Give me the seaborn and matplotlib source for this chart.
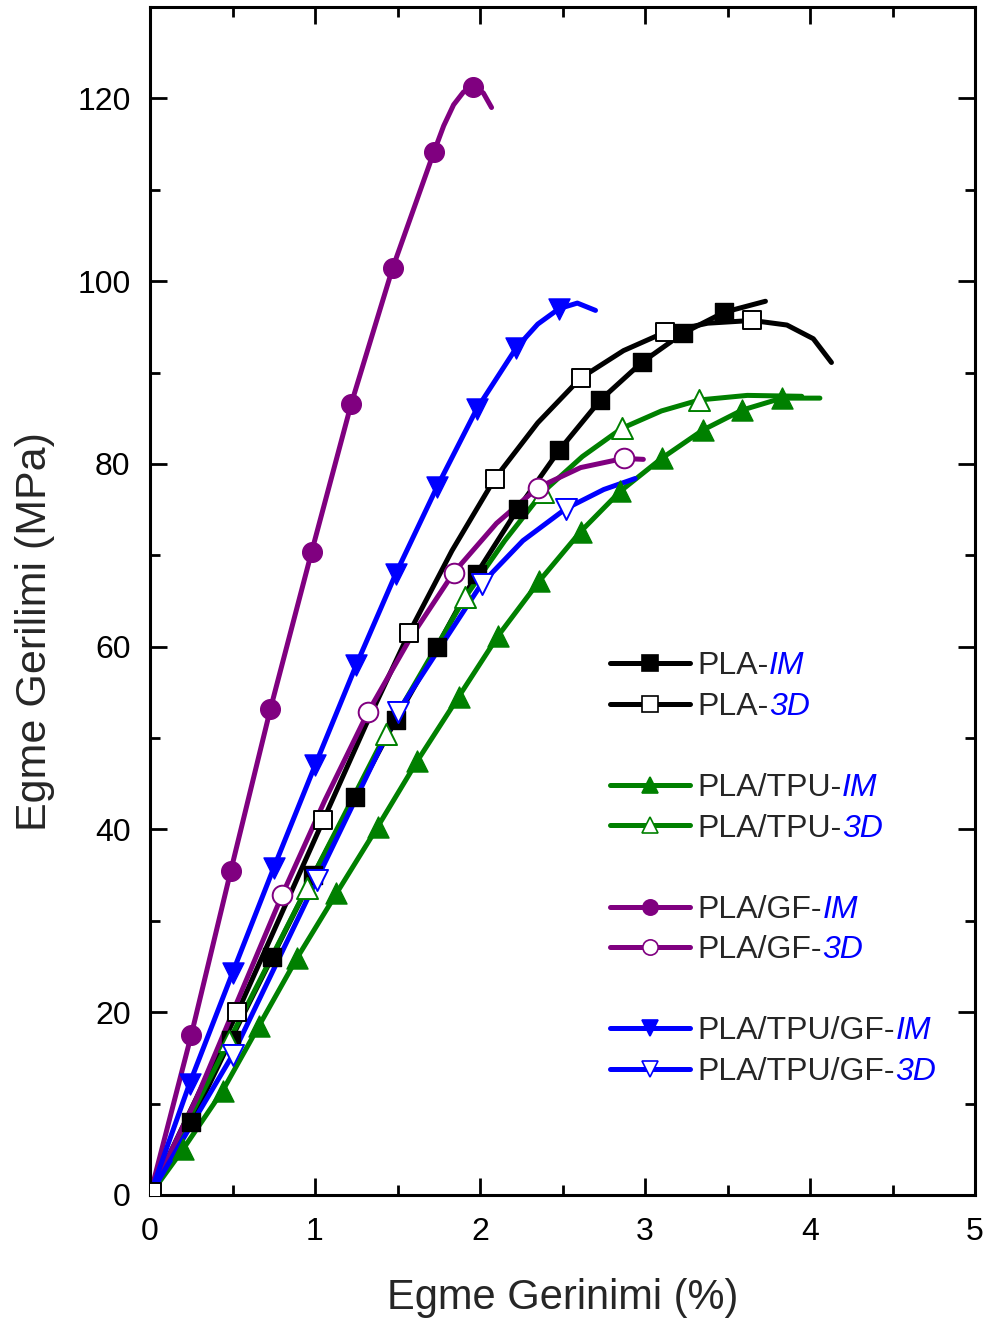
import matplotlib
matplotlib.use("Agg")
import matplotlib.pyplot as plt
import seaborn as sns
import pandas as pd
from matplotlib.lines import Line2D
from matplotlib.ticker import MultipleLocator

# ---------------- data (strain %, stress MPa) ----------------
pla_im_x = [0, 0.25, 0.49, 0.74, 0.99, 1.24, 1.49, 1.74, 1.98, 2.23, 2.48, 2.73, 2.98, 3.23, 3.48, 3.73]
pla_im_y = [0, 8.0, 17.0, 26.0, 35.0, 43.5, 52.0, 60.0, 68.0, 75.1, 81.5, 87.0, 91.1, 94.3, 96.6, 97.8]
pla_im_mx = [0.25, 0.49, 0.74, 0.99, 1.24, 1.49, 1.74, 1.98, 2.23, 2.48, 2.73, 2.98, 3.23, 3.48]
pla_im_my = [8.0, 17.0, 26.0, 35.0, 43.5, 52.0, 60.0, 68.0, 75.1, 81.5, 87.0, 91.1, 94.3, 96.6]

pla_3d_x = [0, 0.53, 0.79, 1.05, 1.31, 1.57, 1.83, 2.09, 2.35, 2.61, 2.87, 3.12, 3.38, 3.65, 3.86, 4.02, 4.13]
pla_3d_y = [0, 20.0, 30.5, 41.0, 51.5, 61.5, 70.5, 78.4, 84.5, 89.4, 92.4, 94.4, 95.4, 95.7, 95.2, 93.7, 91.1]
pla_3d_mx = [0.01, 0.53, 1.05, 1.57, 2.09, 2.61, 3.12, 3.65]
pla_3d_my = [0.3, 20.0, 41.0, 61.5, 78.4, 89.4, 94.4, 95.7]

tpu_im_x = [0, 0.20, 0.44, 0.66, 0.89, 1.13, 1.38, 1.62, 1.87, 2.11, 2.36, 2.61, 2.85, 3.10, 3.35, 3.59, 3.83, 4.06]
tpu_im_y = [0, 5.0, 11.4, 18.5, 25.9, 33.0, 40.3, 47.5, 54.5, 61.2, 67.2, 72.6, 77.0, 80.6, 83.7, 85.9, 87.2, 87.2]
tpu_im_mx = [0.20, 0.44, 0.66, 0.89, 1.13, 1.38, 1.62, 1.87, 2.11, 2.36, 2.61, 2.85, 3.10, 3.35, 3.59, 3.83]
tpu_im_my = [5.0, 11.4, 18.5, 25.9, 33.0, 40.3, 47.5, 54.5, 61.2, 67.2, 72.6, 77.0, 80.6, 83.7, 85.9, 87.2]

tpu_3d_x = [0, 0.48, 0.95, 1.43, 1.91, 2.15, 2.38, 2.62, 2.86, 3.10, 3.33, 3.62, 3.95]
tpu_3d_y = [0, 16.9, 33.6, 50.5, 65.4, 71.6, 76.9, 80.8, 83.9, 85.8, 87.0, 87.5, 87.4]
tpu_3d_mx = [0.48, 0.95, 1.43, 1.91, 2.38, 2.86, 3.33]
tpu_3d_my = [16.9, 33.6, 50.5, 65.4, 76.9, 83.9, 87.0]

gf_im_x = [0, 0.25, 0.49, 0.73, 0.98, 1.22, 1.47, 1.72, 1.78, 1.84, 1.90, 1.96, 2.02, 2.07]
gf_im_y = [0, 17.5, 35.5, 53.2, 70.4, 86.6, 101.4, 114.1, 117.0, 119.3, 120.7, 121.2, 120.6, 119.0]
gf_im_mx = [0.25, 0.49, 0.73, 0.98, 1.22, 1.47, 1.72, 1.96]
gf_im_my = [17.5, 35.5, 53.2, 70.4, 86.6, 101.4, 114.1, 121.2]

gf_3d_x = [0, 0.28, 0.80, 1.06, 1.32, 1.58, 1.84, 2.10, 2.35, 2.61, 2.87, 2.99]
gf_3d_y = [0, 10.5, 32.8, 43.2, 52.8, 61.0, 68.1, 73.5, 77.4, 79.6, 80.6, 80.5]
gf_3d_mx = [0.80, 1.32, 1.84, 2.35, 2.87]
gf_3d_my = [32.8, 52.8, 68.1, 77.4, 80.6]

tgf_im_x = [0, 0.24, 0.50, 0.75, 1.00, 1.25, 1.49, 1.74, 1.98, 2.22, 2.35, 2.48, 2.59, 2.70]
tgf_im_y = [0, 12.2, 24.3, 35.8, 47.0, 58.0, 68.0, 77.5, 86.0, 92.7, 95.3, 97.0, 97.6, 96.8]
tgf_im_mx = [0.24, 0.50, 0.75, 1.00, 1.25, 1.49, 1.74, 1.98, 2.22, 2.48]
tgf_im_my = [12.2, 24.3, 35.8, 47.0, 58.0, 68.0, 77.5, 86.0, 92.7, 97.0]

tgf_3d_x = [0, 0.50, 1.01, 1.50, 2.01, 2.26, 2.52, 2.75, 2.94]
tgf_3d_y = [0, 15.3, 34.5, 52.8, 66.9, 71.6, 75.1, 77.2, 78.4]
tgf_3d_mx = [0.50, 1.01, 1.50, 2.01, 2.52]
tgf_3d_my = [15.3, 34.5, 52.8, 66.9, 75.1]

prefixes = ["PLA-", "PLA-", "PLA/TPU-", "PLA/TPU-", "PLA/GF-", "PLA/GF-", "PLA/TPU/GF-", "PLA/TPU/GF-"]
suffixes = ["IM", "3D", "IM", "3D", "IM", "3D", "IM", "3D"]
x_ticks = [0, 1, 2, 3, 4, 5]
y_ticks = [0, 20, 40, 60, 80, 100, 120]

# ---------------- styling ----------------
sns.set_style("ticks")
plt.rcParams["font.family"] = ["Liberation Sans", "DejaVu Sans"]

BLACK, GREEN, PURPLE, BLUE = "#000000", "#008000", "#800080", "#0000FF"

series = [
    (pla_im_x, pla_im_y, pla_im_mx, pla_im_my, BLACK, "s", True, 150),
    (pla_3d_x, pla_3d_y, pla_3d_mx, pla_3d_my, BLACK, "s", False, 150),
    (tpu_im_x, tpu_im_y, tpu_im_mx, tpu_im_my, GREEN, "^", True, 230),
    (tpu_3d_x, tpu_3d_y, tpu_3d_mx, tpu_3d_my, GREEN, "^", False, 230),
    (gf_im_x, gf_im_y, gf_im_mx, gf_im_my, PURPLE, "o", True, 200),
    (gf_3d_x, gf_3d_y, gf_3d_mx, gf_3d_my, PURPLE, "o", False, 200),
    (tgf_im_x, tgf_im_y, tgf_im_mx, tgf_im_my, BLUE, "v", True, 230),
    (tgf_3d_x, tgf_3d_y, tgf_3d_mx, tgf_3d_my, BLUE, "v", False, 230),
]

fig = plt.figure(figsize=(9.91, 13.29), dpi=100)
ax = fig.add_axes([150 / 991, 1 - 1195 / 1329, 825 / 991, 1188 / 1329])

for lx, ly, mx, my, col, mk, filled, s in series:
    sns.lineplot(x=lx, y=ly, sort=False, estimator=None, color=col, lw=3.6, ax=ax, zorder=2)
    if filled:
        sns.scatterplot(x=mx, y=my, marker=mk, s=s, color=col, edgecolor=col, linewidth=1.0, ax=ax, zorder=3)
    else:
        sns.scatterplot(x=mx, y=my, marker=mk, s=s, color="white", edgecolor=col, linewidth=1.4, ax=ax, zorder=3)

ax.set_xlim(0, 5)
ax.set_ylim(0, 130)
ax.set_xticks(x_ticks)
ax.set_yticks(y_ticks)
ax.xaxis.set_minor_locator(MultipleLocator(0.5))
ax.yaxis.set_minor_locator(MultipleLocator(10))
for sp in ax.spines.values():
    sp.set_visible(True)
    sp.set_linewidth(2.2)
    sp.set_color("black")
ax.tick_params(which="both", direction="in", top=True, right=True, width=2.0, colors="black")
ax.tick_params(which="major", length=12, labelsize=23)
ax.tick_params(which="minor", length=7)
ax.tick_params(axis="x", which="major", pad=16)
ax.tick_params(axis="y", which="major", pad=14)
ax.set_xlabel("Egme Gerinimi (%)", fontsize=30, labelpad=22)
ax.set_ylabel("Egme Gerilimi (MPa)", fontsize=31)
ax.yaxis.set_label_coords(-0.115, 0.474)

# ---------------- legend ----------------
handles, labels = [], []
for i, (lx, ly, mx, my, col, mk, filled, s) in enumerate(series):
    if i in (2, 4, 6):
        handles.append(Line2D([], [], linestyle="none"))
        labels.append(" ")
    handles.append(Line2D([], [], color=col, lw=3.6, marker=mk, markersize=11,
                          markerfacecolor=col if filled else "white", markeredgecolor=col,
                          markeredgewidth=1.2))
    labels.append(prefixes[i])
leg = ax.legend(handles, labels, loc="upper left", bbox_to_anchor=(0.5576, 0.4575),
                frameon=False, fontsize=23, handlelength=2.5, handletextpad=0.25,
                labelspacing=0.33, borderpad=0, borderaxespad=0, numpoints=1)
leg.set_zorder(5)
fig.canvas.draw()
k = 0
for t in leg.get_texts():
    if t.get_text().strip() == "":
        continue
    ax.annotate(suffixes[k], xy=(1, 0), xycoords=t, va="bottom", ha="left",
                fontsize=23, color=BLUE, style="italic", zorder=10)
    k += 1

fig.savefig("out.png", dpi=100, facecolor="white")
